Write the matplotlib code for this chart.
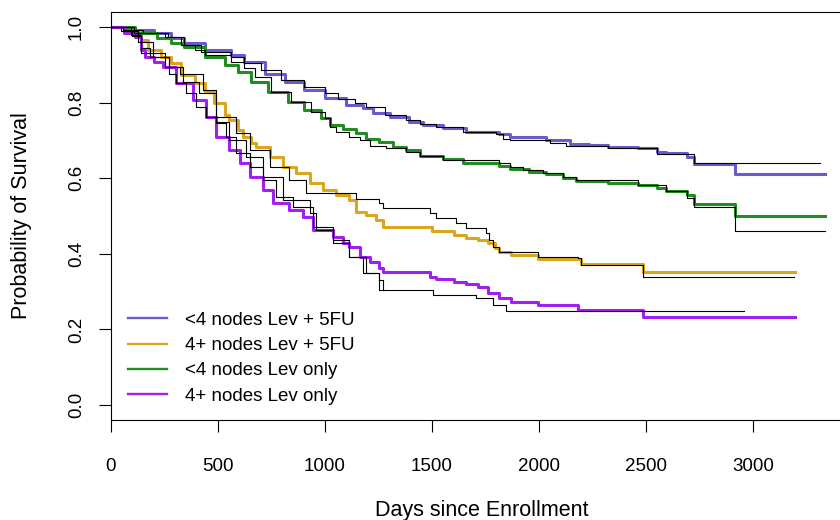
import matplotlib
matplotlib.use("Agg")
import matplotlib.pyplot as plt
from matplotlib.lines import Line2D

plt.rcParams['font.family'] = ['Liberation Sans', 'DejaVu Sans']

# Kaplan-Meier estimates (days, survival)
km_lo_5fu_t = [0, 65, 205, 283, 345, 439, 563, 625, 719, 812, 905, 999, 1100, 1177, 1224, 1302,
               1395, 1457, 1550, 1660, 1815, 1862, 2033, 2142, 2235, 2320, 2460, 2548, 2594,
               2688, 2725, 2912, 3336]
km_lo_5fu_s = [1.0, 0.992, 0.983, 0.970, 0.957, 0.939, 0.926, 0.908, 0.877, 0.855, 0.833, 0.811,
               0.794, 0.785, 0.772, 0.763, 0.750, 0.741, 0.732, 0.723, 0.716, 0.708, 0.701, 0.690,
               0.688, 0.683, 0.679, 0.670, 0.666, 0.657, 0.637, 0.610, 0.610]

km_hi_5fu_t = [0, 97, 143, 174, 236, 283, 330, 392, 439, 485, 532, 555, 594, 617, 656, 680, 742,
               804, 866, 929, 991, 1053, 1115, 1147, 1193, 1240, 1270, 1500, 1605, 1660, 1714,
               1760, 1792, 1815, 1870, 1993, 2196, 2483, 3192]
km_hi_5fu_s = [1.0, 0.988, 0.966, 0.939, 0.921, 0.904, 0.873, 0.851, 0.829, 0.798, 0.767, 0.754,
               0.728, 0.710, 0.692, 0.683, 0.657, 0.630, 0.613, 0.587, 0.569, 0.556, 0.542, 0.511,
               0.503, 0.489, 0.472, 0.459, 0.450, 0.443, 0.437, 0.428, 0.415, 0.406, 0.397, 0.386,
               0.372, 0.353, 0.353]

km_lo_lev_t = [0, 112, 219, 283, 345, 439, 532, 594, 656, 734, 827, 905, 983, 1022, 1084, 1147,
               1193, 1255, 1317, 1380, 1442, 1550, 1643, 1815, 1862, 1955, 2033, 2110, 2173,
               2320, 2460, 2548, 2594, 2688, 2725, 2912, 3336]
km_lo_lev_s = [1.0, 0.983, 0.970, 0.959, 0.948, 0.921, 0.899, 0.882, 0.855, 0.829, 0.802, 0.780,
               0.758, 0.741, 0.729, 0.719, 0.705, 0.697, 0.683, 0.675, 0.659, 0.650, 0.639, 0.632,
               0.624, 0.617, 0.610, 0.601, 0.593, 0.588, 0.582, 0.573, 0.566, 0.556, 0.531, 0.500,
               0.500]

km_hi_lev_t = [0, 65, 112, 143, 159, 205, 244, 306, 384, 446, 493, 555, 602, 649, 711, 757, 835,
               897, 944, 1038, 1084, 1115, 1162, 1209, 1255, 1270, 1489, 1520, 1605, 1660, 1714,
               1760, 1815, 1870, 1993, 2180, 2483, 3192]
km_hi_lev_s = [1.0, 0.983, 0.974, 0.939, 0.921, 0.908, 0.895, 0.851, 0.807, 0.763, 0.710, 0.675,
               0.639, 0.604, 0.569, 0.534, 0.516, 0.498, 0.463, 0.445, 0.428, 0.419, 0.392, 0.379,
               0.362, 0.353, 0.339, 0.332, 0.326, 0.320, 0.311, 0.295, 0.282, 0.273, 0.265, 0.251,
               0.234, 0.234]

# model-based curves (thin black)
fit_lo_5fu_t = [0, 60, 150, 266, 345, 423, 563, 625, 703, 796, 905, 999, 1060, 1139, 1193, 1279,
                1381, 1442, 1520, 1643, 1800, 1830, 1862, 2049, 2127, 2320, 2548, 2725, 3313]
fit_lo_5fu_s = [1.0, 0.992, 0.985, 0.974, 0.952, 0.935, 0.921, 0.904, 0.886, 0.860, 0.842, 0.825,
                0.810, 0.798, 0.788, 0.767, 0.754, 0.743, 0.736, 0.723, 0.716, 0.705, 0.701, 0.692,
                0.686, 0.679, 0.664, 0.639, 0.639]

fit_lo_lev_t = [0, 110, 252, 330, 392, 439, 563, 625, 672, 750, 843, 937, 999, 1022, 1053, 1115,
                1162, 1209, 1286, 1380, 1442, 1550, 1815, 1862, 1924, 2017, 2110, 2173, 2460,
                2594, 2688, 2725, 2912, 3336]
fit_lo_lev_s = [1.0, 0.983, 0.974, 0.952, 0.939, 0.926, 0.908, 0.891, 0.869, 0.829, 0.802, 0.776,
                0.758, 0.736, 0.723, 0.710, 0.701, 0.685, 0.679, 0.670, 0.659, 0.648, 0.641, 0.629,
                0.622, 0.615, 0.603, 0.595, 0.582, 0.566, 0.547, 0.523, 0.459, 0.459]

fit_hi_5fu_t = [0, 97, 143, 252, 322, 430, 493, 586, 649, 742, 835, 913, 1147, 1255, 1270, 1489,
                1520, 1610, 1660, 1753, 1765, 1785, 1813, 1993, 2180, 2196, 2483, 3190]
fit_hi_5fu_s = [1.0, 0.980, 0.930, 0.895, 0.877, 0.833, 0.763, 0.719, 0.675, 0.630, 0.595, 0.560,
                0.546, 0.534, 0.520, 0.507, 0.494, 0.481, 0.469, 0.454, 0.437, 0.419, 0.406, 0.391,
                0.388, 0.370, 0.339, 0.339]

fit_hi_lev_a_t = [0, 50, 100, 140, 182, 275, 306, 353, 400, 446, 493, 540, 586, 649, 711, 773, 850,
                  944, 1038, 1115, 1177, 1255, 1504, 1706, 1785, 1846, 2954]
fit_hi_lev_a_s = [1.0, 0.990, 0.975, 0.945, 0.921, 0.877, 0.851, 0.825, 0.789, 0.763, 0.745, 0.710,
                  0.666, 0.630, 0.595, 0.551, 0.525, 0.472, 0.437, 0.392, 0.348, 0.304, 0.291,
                  0.282, 0.265, 0.249, 0.249]

fit_hi_lev_b_t = [0, 60, 130, 200, 275, 337, 415, 493, 555, 633, 711, 804, 929, 960, 1038, 1115,
                  1193, 1255, 1270]
fit_hi_lev_b_s = [1.0, 0.990, 0.960, 0.920, 0.895, 0.855, 0.825, 0.750, 0.701, 0.657, 0.604, 0.542,
                  0.507, 0.463, 0.428, 0.392, 0.348, 0.331, 0.304]

labels = ["<4 nodes Lev + 5FU", "4+ nodes Lev + 5FU", "<4 nodes Lev only", "4+ nodes Lev only"]
colors = ["#6A5ACD", "#DAA520", "#228B22", "#A020F0"]

km_curves = [(km_lo_5fu_t, km_lo_5fu_s), (km_hi_5fu_t, km_hi_5fu_s),
             (km_lo_lev_t, km_lo_lev_s), (km_hi_lev_t, km_hi_lev_s)]
fit_curves = [(fit_lo_5fu_t, fit_lo_5fu_s), (fit_hi_5fu_t, fit_hi_5fu_s),
              (fit_lo_lev_t, fit_lo_lev_s), (fit_hi_lev_a_t, fit_hi_lev_a_s),
              (fit_hi_lev_b_t, fit_hi_lev_b_s)]

fig = plt.figure(figsize=(8.4, 5.2), dpi=100)
ax = fig.add_axes([110.5 / 840, 99.9 / 520, 742.5 / 840, 408.2 / 520])

for (t, s), c in zip(km_curves, colors):
    ax.plot(t, s, drawstyle="steps-post", color=c, lw=2.2, zorder=2)
for t, s in fit_curves:
    ax.plot(t, s, drawstyle="steps-post", color="black", lw=0.8, zorder=3)

ax.set_xlim(0, 3465)
ax.set_ylim(-0.04, 1.04)
ax.set_xticks([0, 500, 1000, 1500, 2000, 2500, 3000])
ax.set_yticks([0.0, 0.2, 0.4, 0.6, 0.8, 1.0])
ax.set_yticklabels(["0.0", "0.2", "0.4", "0.6", "0.8", "1.0"], va="center")
ax.tick_params(axis="both", direction="out", length=8.5, width=0.8, labelsize=13.5, color="black")
ax.tick_params(axis="x", pad=19)
ax.tick_params(axis="y", labelrotation=90, pad=10)
for sp in ax.spines.values():
    sp.set_linewidth(0.8)

ax.set_xlabel("Days since Enrollment", fontsize=15.5)
ax.set_ylabel("Probability of Survival", fontsize=15.5)
ax.xaxis.set_label_coords((482 - 110.5) / 742.5, -(500 - 420.1) / 408.2)
ax.yaxis.set_label_coords(-(110.5 - 32) / 742.5, 0.5)

handles = [Line2D([], [], color=c, lw=1.7) for c in colors]
ax.legend(handles, labels, loc="lower left", bbox_to_anchor=(0.0236, 0.038), frameon=False,
          fontsize=13.5, handlelength=2.1, handletextpad=0.95, labelspacing=0.43,
          borderpad=0, borderaxespad=0)

fig.savefig("out.png", dpi=100)
